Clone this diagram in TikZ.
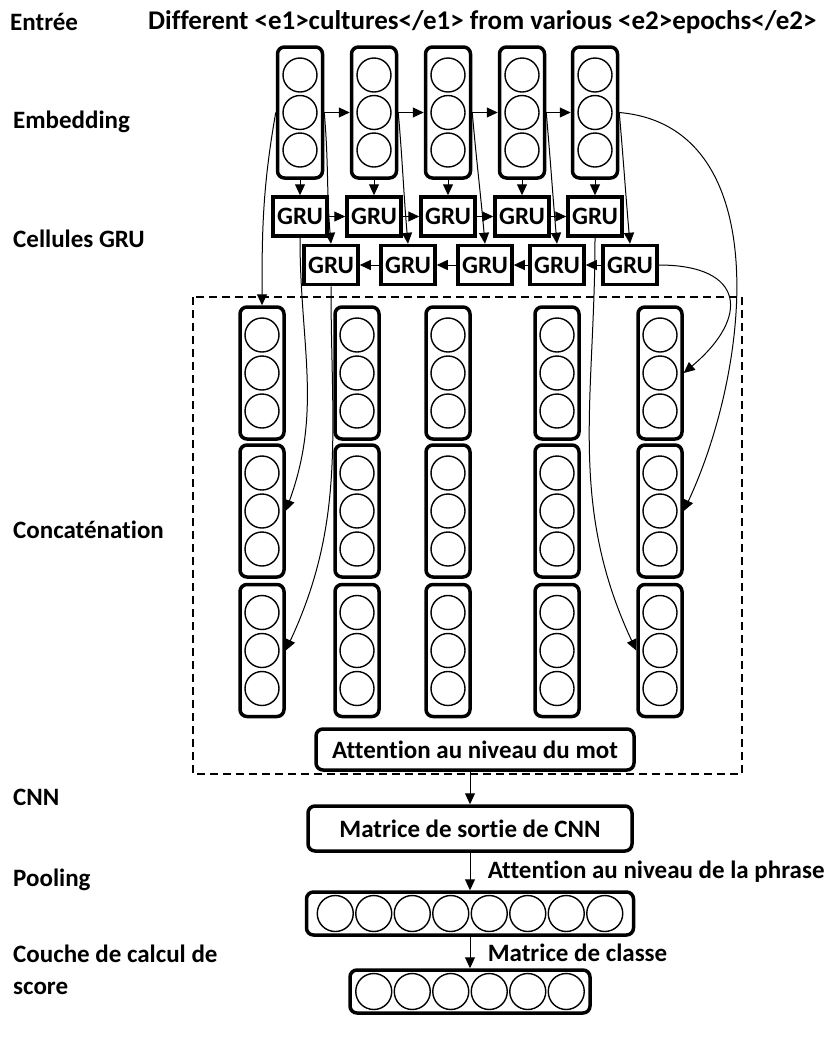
\documentclass[tikz,border=0pt]{standalone}
\usepackage{fontspec}
\setmainfont{Carlito}[Ligatures=CommonOff]
\usepackage{tikz}
\usetikzlibrary{arrows.meta,positioning}

\begin{document}
\begin{tikzpicture}[
        x=1pt, y=1pt,
        font=\fontsize{25}{32}\selectfont\bfseries,
        >={Triangle[length=11pt,width=10pt]},
        link/.style={->, line width=1pt},
        % vector of units (rounded box with circles)
        vec/.style={draw, line width=3.5pt, rounded corners=7pt, minimum width=45pt, minimum height=131pt, inner sep=0pt},
        unit/.style={draw, circle, line width=1.4pt, minimum size=34pt, inner sep=0pt},
        gru/.style={draw, line width=3.5pt, minimum width=54pt, minimum height=39pt, inner sep=0pt},
        layer/.style={draw, line width=3.5pt, rounded corners=7pt, inner sep=0pt},
        % layer names on the left
        layername/.style={anchor=west, align=left, inner sep=0pt},
    ]
    \useasboundingbox (0,0) rectangle (834,-1037);

    % names of the layers
    \node [layername] (lIn) at (10,-22) {Entrée};
    \node [layername, font=\fontsize{27}{32}\selectfont\bfseries] (lSent) at (148,-22) {Different <e1>cultures</e1> from various <e2>epochs</e2>};
    \node [layername] (lEmb) at (13,-122) {Embedding};
    \node [layername] (lGru) at (13,-239) {Cellules GRU};
    \node [layername] (lConc) at (13,-530) {Concaténation};
    \node [layername] (lCnn) at (13,-797) {CNN};
    \node [layername] (lPool) at (13,-880) {Pooling};
    \node [layername, anchor=north west] (lScore) at (13,-945) {Couche de calcul de\\score};

    % embedding
    \foreach \x [count=\i] in {300,374,448,522,595} {
        \node [vec] (e\i) at (\x,-112.5) {};
        \foreach \dy [count=\j] in {37.5,0,-37.5}
            \node [unit] (e\i-\j) at (\x,-112.5+\dy) {};
    }

    % GRU cells, forward and backward
    \foreach \x [count=\i] in {300,374,448,522,595}
        \node [gru] (f\i) at (\x,-216.5) {GRU};
    \foreach \x [count=\i] in {331,408,485,557,630}
        \node [gru] (b\i) at (\x,-265) {GRU};

    \foreach \i [evaluate=\i as \n using int(\i+1)] in {1,...,4} {
        \draw [link] (e\i) -- (e\n);
        \draw [link] (f\i) -- (f\n);
        \draw [link] (b\n) -- (b\i);
    }
    \foreach \i in {1,...,5} {
        \draw [link] (e\i) -- (f\i);
        \draw [link] (e\i.east) to [out=-85, in=95] (b\i.north);
    }

    % concatenation
    \draw [dashed, line width=1.4pt, dash pattern=on 8pt off 5pt] (193,-297) rectangle (742,-774);
    \foreach \x [count=\i] in {262,357,448,557,660}
        \foreach \y [count=\r] in {373,511,650.5} {
            \node [vec, minimum width=44pt, minimum height=132pt] (c\r-\i) at (\x,-\y) {};
            \foreach \dy [count=\j] in {38,0,-38}
                \node [unit] (c\r-\i-\j) at (\x,-\y+\dy) {};
        }

    \draw [link] (e1.west) to [out=-100, in=90] (c1-1.north);
    \draw [link] (f1.south) to [out=-90, in=70] (c2-1.east);
    \draw [link] (b1.south) to [out=-90, in=65] (c3-1.east);
    \draw [link] (b5.east) to [out=0, in=40, looseness=2] (c1-5.east);
    \draw [link] (e5.east) to [out=-5, in=65] (c2-5.east);
    \draw [link] (f5.south) to [out=-90, in=115] (c3-5.west);

    \node [layer, minimum width=318pt, minimum height=41pt] (att) at (475,-749.5) {Attention au niveau du mot};

    % CNN, pooling and score
    \node [layer, minimum width=324pt, minimum height=45pt] (cnn) at (470,-828.5) {Matrice de sortie de CNN};
    \node [layer, minimum width=327pt, minimum height=43pt] (pool) at (470,-913.5) {};
    \foreach \k in {1,...,8}
        \node [unit, minimum size=36pt] (p\k) at (470+\k*38.5-173.25,-913.5) {};
    \node [layer, minimum width=240pt, minimum height=43pt] (score) at (470,-991.5) {};
    \foreach \k in {1,...,6}
        \node [unit, minimum size=36pt] (s\k) at (470+\k*38.5-134.75,-991.5) {};

    \draw [link] (cnn.north |- att.south) -- (cnn.north);
    \draw [link] (cnn) -- (pool) node [midway, right=14pt] {Attention au niveau de la phrase};
    \draw [link] (pool) -- (score) node [midway, right=14pt] {Matrice de classe};
\end{tikzpicture}
\end{document}
